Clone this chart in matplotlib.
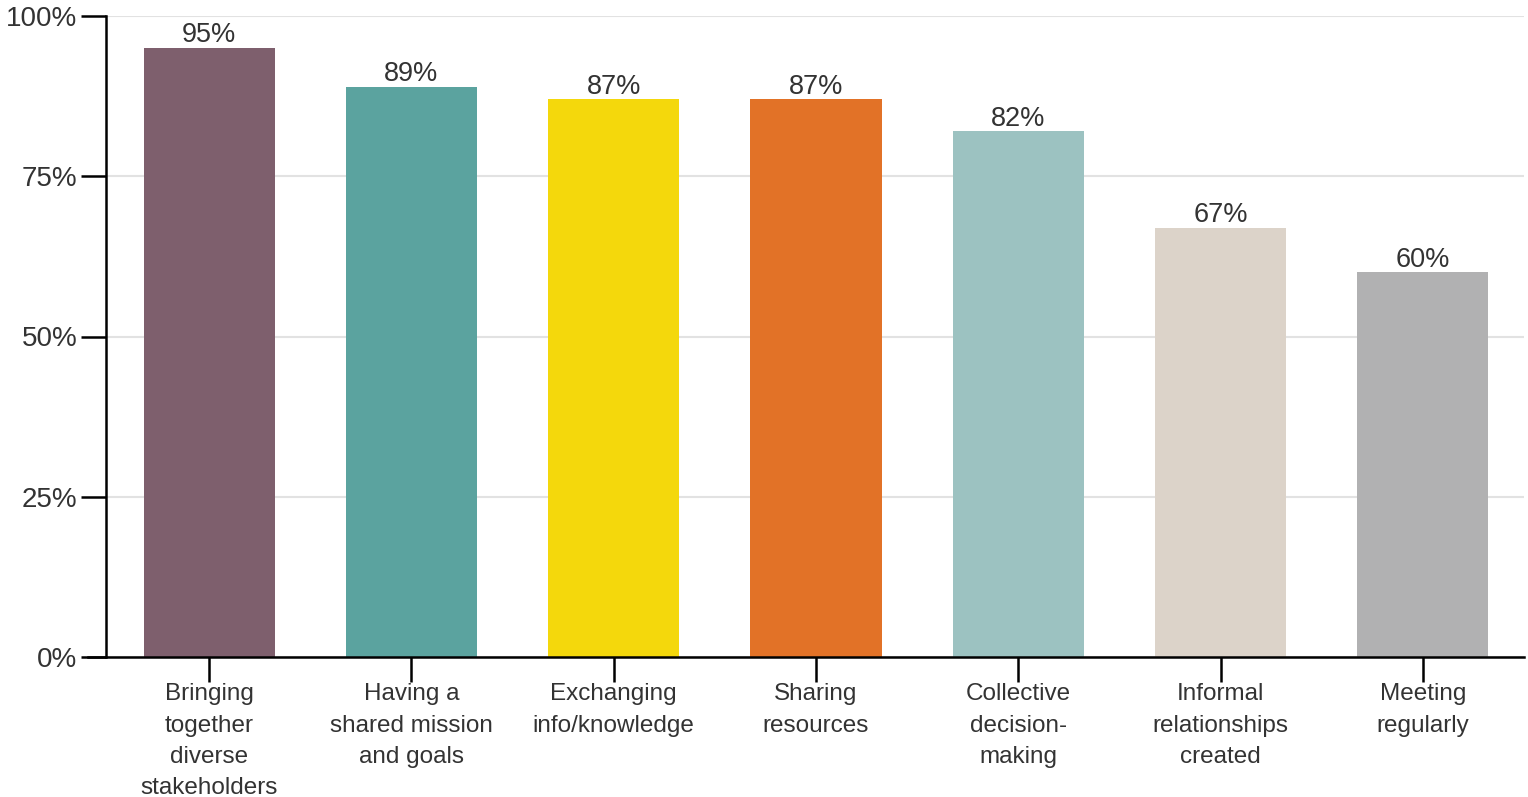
import numpy as np
import matplotlib.pyplot as plt
from matplotlib import font_manager

# pick the regular Liberation Sans file explicitly
reg = [f.fname for f in font_manager.fontManager.ttflist
       if 'LiberationSans-Regular' in f.fname]
if reg:
    font_manager.fontManager.addfont(reg[0])
    plt.rcParams['font.family'] = [font_manager.FontProperties(fname=reg[0]).get_name(), 'DejaVu Sans']
else:
    plt.rcParams['font.family'] = ['Liberation Sans', 'DejaVu Sans']

categories = ['Bringing\ntogether\ndiverse\nstakeholders', 'Having a\nshared mission\nand goals',
              'Exchanging\ninfo/knowledge', 'Sharing\nresources', 'Collective\ndecision-\nmaking',
              'Informal\nrelationships\ncreated', 'Meeting\nregularly']
values = [95, 89, 87, 87, 82, 67, 60]
colors = ['#7E5F6D', '#5BA39F', '#F4D80C', '#E27227', '#9CC2C1', '#DCD3C9', '#B1B1B2']

txt = '#333333'

fig = plt.figure(figsize=(15.28, 7.97), dpi=100)
ax = fig.add_axes([106/1528, 140/797, 1418/1528, 641/797])

x = np.arange(len(values))
ax.bar(x, values, width=0.648, color=colors, zorder=2)
for i, v in enumerate(values):
    ax.text(i, v - 0.05, f'{v}%', ha='center', va='bottom', fontsize=19.5, color=txt)

ax.set_xlim(-0.51, 6.5)
ax.set_ylim(0, 100)
ax.set_yticks([0, 25, 50, 75, 100])
ax.set_yticklabels(['0%', '25%', '50%', '75%', '100%'])
ax.set_xticks(x)
ax.set_xticklabels(categories, linespacing=1.55)

ax.grid(axis='y', color='#e2e2e2', linewidth=1.5, zorder=0)
for s in ['top', 'right']:
    ax.spines[s].set_visible(False)
ax.spines['left'].set_linewidth(1.8)
ax.spines['bottom'].set_linewidth(1.8)
ax.spines['bottom'].set_bounds(-0.51 - 18/202.2, 6.5)

ax.tick_params(axis='y', length=18, width=1.8, pad=2.5, labelsize=20, labelcolor=txt)
ax.tick_params(axis='x', length=18, width=1.8, pad=1, labelsize=17.5, labelcolor=txt)

fig.savefig('out.png', dpi=100)
